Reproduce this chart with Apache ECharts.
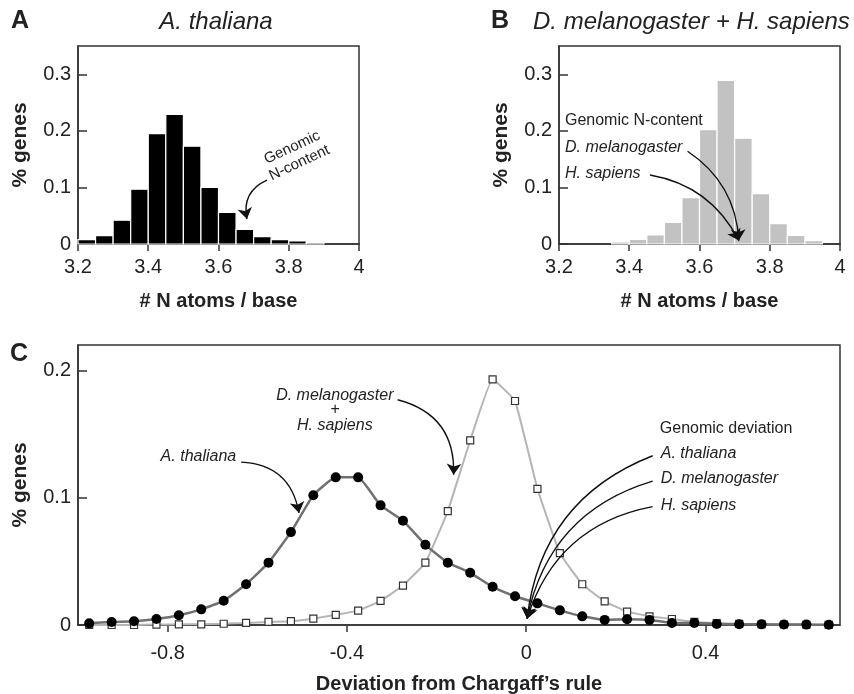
<!DOCTYPE html>
<html>
<head>
<meta charset="utf-8">
<title>N content and Chargaff deviation</title>
<script src="https://cdn.jsdelivr.net/npm/echarts@6.0.0/dist/echarts.min.js"></script>
<style>
    html, body { margin: 0; padding: 0; background: #ffffff; }
    #main { width: 854px; height: 694px; }
</style>
</head>
<body>
<div id="main"></div>
<script>
    // A: A. thaliana histogram, bins of 0.05 N atoms / base
    var binStartA = [3.20, 3.25, 3.30, 3.35, 3.40, 3.45, 3.50, 3.55, 3.60, 3.65, 3.70, 3.75, 3.80, 3.85];
    var valuesA = [0.0076, 0.0147, 0.042, 0.097, 0.195, 0.229, 0.173, 0.100, 0.056, 0.026, 0.013, 0.0076, 0.0053, 0.0024];
    // B: D. melanogaster + H. sapiens histogram
    var binStartB = [3.35, 3.40, 3.45, 3.50, 3.55, 3.60, 3.65, 3.70, 3.75, 3.80, 3.85, 3.90];
    var valuesB = [0.0035, 0.008, 0.016, 0.038, 0.082, 0.202, 0.289, 0.187, 0.089, 0.036, 0.015, 0.006];
    var binWidth = 0.05;

    // C: deviation from Chargaff's rule
    var deviation = [-0.975, -0.925, -0.875, -0.825, -0.775, -0.725, -0.675, -0.625, -0.575, -0.525,
        -0.475, -0.425, -0.375, -0.325, -0.275, -0.225, -0.175, -0.125, -0.075, -0.025,
        0.025, 0.075, 0.125, 0.175, 0.225, 0.275, 0.325, 0.375, 0.425, 0.475,
        0.525, 0.575, 0.625, 0.675];
    var thaliana = [0.0013, 0.0024, 0.003, 0.0047, 0.0076, 0.0123, 0.019, 0.032, 0.049, 0.073,
        0.102, 0.116, 0.116, 0.094, 0.082, 0.063, 0.049, 0.041, 0.030, 0.0226,
        0.017, 0.0115, 0.0068, 0.004, 0.0045, 0.004, 0.0016, 0.0016, 0.0008, 0.0006,
        0.0005, 0.0004, 0.0003, 0.0002];
    var melHs = [0, 0, 0, 0.0003, 0.0005, 0.0005, 0.001, 0.0016, 0.0024, 0.003,
        0.005, 0.008, 0.0113, 0.019, 0.031, 0.049, 0.0895, 0.145, 0.193, 0.176,
        0.107, 0.0565, 0.032, 0.0186, 0.0105, 0.0068, 0.0047, 0.0024, 0.0015, 0.001,
        0.0006, 0.0004, 0.0002, 0.0001];

    var ticksN = [3.2, 3.4, 3.6, 3.8, 4];
    var ticksAB_y = [0, 0.1, 0.2, 0.3];
    var ticksC_x = [-0.8, -0.4, 0, 0.4];
    var ticksC_y = [0, 0.1, 0.2];

    // annotation arrows: [grid, [x1, y1], [x2, y2], curveness]
    var arrows = [
        [0, [3.738, 0.113], [3.681, 0.044], -0.4],
        [1, [3.566, 0.164], [3.712, 0.006], 0.25],
        [1, [3.459, 0.122], [3.712, 0.006], 0.25],
        [2, [-0.636, 0.128], [-0.507, 0.088], 0.4],
        [2, [-0.287, 0.177], [-0.162, 0.118], 0.4],
        [2, [0.282, 0.133], [0.002, 0.005], -0.3],
        [2, [0.282, 0.113], [0.002, 0.005], -0.3],
        [2, [0.282, 0.093], [0.002, 0.005], -0.3]
    ];
    // annotation texts: [grid, x, y, text, italic, align]
    var notes = [
        [1, 3.217, 0.219, 'Genomic N-content', false, 'left'],
        [1, 3.217, 0.170, 'D. melanogaster', true, 'left'],
        [1, 3.217, 0.125, 'H. sapiens', true, 'left'],
        [2, -0.427, 0.180, 'D. melanogaster', true, 'center'],
        [2, -0.427, 0.169, '+', true, 'center'],
        [2, -0.427, 0.157, 'H. sapiens', true, 'center'],
        [2, -0.647, 0.132, 'A. thaliana', true, 'right'],
        [2, 0.298, 0.154, 'Genomic deviation', false, 'left'],
        [2, 0.300, 0.135, 'A. thaliana', true, 'left'],
        [2, 0.300, 0.115, 'D. melanogaster', true, 'left'],
        [2, 0.300, 0.094, 'H. sapiens', true, 'left']
    ];

    var FONT = "'Liberation Sans', Arial, sans-serif";
    var INK = '#222';

    function histData(starts, vals) {
        return starts.map(function (s, i) { return [s, s + binWidth, vals[i]]; });
    }
    function histItem(color) {
        return function (params, api) {
            var p0 = api.coord([api.value(0), api.value(2)]);
            var p1 = api.coord([api.value(1), 0]);
            return {
                type: 'rect',
                shape: { x: p0[0], y: p0[1], width: p1[0] - p0[0], height: p1[1] - p0[1] },
                style: { fill: color, stroke: '#fff', lineWidth: 1.2 }
            };
        };
    }
    function xAxis(grid, min, max, ticks, name, gap, margin) {
        return {
            type: 'value', gridIndex: grid, min: min, max: max,
            name: name, nameLocation: 'middle', nameGap: gap,
            nameTextStyle: { fontFamily: FONT, fontSize: 20, fontWeight: 'bold', color: INK },
            axisLine: { show: true, onZero: false, lineStyle: { color: '#333', width: 1.5 } },
            axisTick: { show: true, inside: false, length: 7, customValues: ticks, lineStyle: { color: '#333', width: 1.5 } },
            axisLabel: { customValues: ticks, margin: margin, fontFamily: FONT, fontSize: 20, color: INK },
            splitLine: { show: false }
        };
    }
    function yAxis(grid, max, ticks) {
        return {
            type: 'value', gridIndex: grid, min: 0, max: max,
            name: '% genes', nameLocation: 'middle', nameGap: 47,
            nameTextStyle: { fontFamily: FONT, fontSize: 21, fontWeight: 'bold', color: INK },
            axisLine: { show: true, onZero: false, lineStyle: { color: '#333', width: 1.5 } },
            axisTick: { show: true, inside: true, length: 9, customValues: ticks, lineStyle: { color: '#333', width: 1.5 } },
            axisLabel: { customValues: ticks, margin: 7, fontFamily: FONT, fontSize: 20, color: INK },
            splitLine: { show: false }
        };
    }

    var chart = echarts.init(document.getElementById('main'));

    var series = [
        { type: 'custom', xAxisIndex: 0, yAxisIndex: 0, renderItem: histItem('#000'),
          encode: { x: [0, 1], y: 2 }, data: histData(binStartA, valuesA), silent: true },
        { type: 'custom', xAxisIndex: 1, yAxisIndex: 1, renderItem: histItem('#c2c2c2'),
          encode: { x: [0, 1], y: 2 }, data: histData(binStartB, valuesB), silent: true },
        { type: 'line', name: 'D. melanogaster + H. sapiens', xAxisIndex: 2, yAxisIndex: 2,
          data: deviation.map(function (d, i) { return [d, melHs[i]]; }),
          smooth: 0.1, symbol: 'rect', symbolSize: 7, showAllSymbol: true,
          lineStyle: { color: '#b5b5b5', width: 2 },
          itemStyle: { color: '#fff', borderColor: '#333', borderWidth: 1.2 }, z: 3 },
        { type: 'line', name: 'A. thaliana', xAxisIndex: 2, yAxisIndex: 2,
          data: deviation.map(function (d, i) { return [d, thaliana[i]]; }),
          smooth: 0.12, symbol: 'circle', symbolSize: 10, showAllSymbol: true,
          lineStyle: { color: '#707070', width: 2.5 },
          itemStyle: { color: '#000' }, z: 4 }
    ];
    arrows.forEach(function (a) {
        series.push({
            type: 'lines', coordinateSystem: 'cartesian2d', xAxisIndex: a[0], yAxisIndex: a[0],
            symbol: ['none', 'arrow'], symbolSize: 11, silent: true, z: 6,
            lineStyle: { color: '#111', width: 1.4, curveness: a[3], opacity: 1 },
            data: [{ coords: [a[1], a[2]] }]
        });
    });

    chart.setOption({
        animation: false,
        backgroundColor: '#fff',
        grid: [
            { left: 78, width: 281, top: 46, height: 198, show: true, borderColor: '#333', borderWidth: 1.5, outerBoundsMode: 'none' },
            { left: 559, width: 281, top: 46, height: 198, show: true, borderColor: '#333', borderWidth: 1.5, outerBoundsMode: 'none' },
            { left: 78, width: 762, top: 345, height: 280, show: true, borderColor: '#333', borderWidth: 1.5, outerBoundsMode: 'none' }
        ],
        xAxis: [
            xAxis(0, 3.2, 4, ticksN, '# N atoms / base', 47, 13),
            xAxis(1, 3.2, 4, ticksN, '# N atoms / base', 47, 13),
            xAxis(2, -1, 0.7, ticksC_x, 'Deviation from Chargaff\u2019s rule', 49, 18)
        ],
        yAxis: [
            yAxis(0, 0.35, ticksAB_y),
            yAxis(1, 0.35, ticksAB_y),
            yAxis(2, 0.22, ticksC_y)
        ],
        series: series
    });

    var graphics = [
        { type: 'text', left: 11, top: 9, style: { text: 'A', font: 'bold 25px ' + FONT, fill: INK } },
        { type: 'text', left: 491, top: 9, style: { text: 'B', font: 'bold 25px ' + FONT, fill: INK } },
        { type: 'text', left: 10, top: 342, style: { text: 'C', font: 'bold 25px ' + FONT, fill: INK } },
        { type: 'text', x: 216, y: 22, style: { text: 'A. thaliana', font: 'italic 24px ' + FONT, fill: INK, align: 'center', verticalAlign: 'middle' } },
        { type: 'text', x: 533, y: 22, style: { text: 'D. melanogaster + H. sapiens', font: 'italic 24px ' + FONT, fill: INK, align: 'left', verticalAlign: 'middle' } }
    ];
    var pA = chart.convertToPixel({ gridIndex: 0 }, [3.82, 0.157]);
    graphics.push({
        type: 'text', x: pA[0], y: pA[1], rotation: 25 * Math.PI / 180,
        style: { text: 'Genomic\nN-content', font: '15px ' + FONT, fill: INK, align: 'center', verticalAlign: 'middle', lineHeight: 17 }
    });
    notes.forEach(function (n) {
        var p = chart.convertToPixel({ gridIndex: n[0] }, [n[1], n[2]]);
        graphics.push({
            type: 'text', x: p[0], y: p[1], z: 10,
            style: { text: n[3], font: (n[4] ? 'italic ' : '') + '16px ' + FONT, fill: INK, align: n[5], verticalAlign: 'middle' }
        });
    });
    chart.setOption({ graphic: graphics });
</script>
</body>
</html>
